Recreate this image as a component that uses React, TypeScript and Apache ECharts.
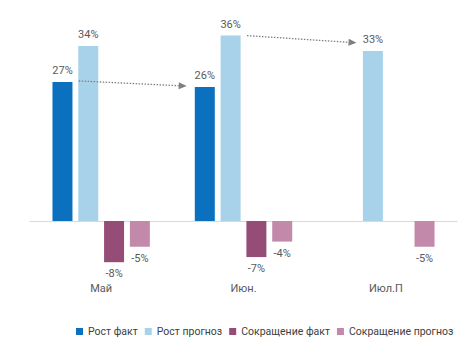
import React, { useEffect, useRef } from "react";
import * as echarts from "echarts";

const categories = ["Май", "Июн.", "Июл.П"];
const growthFact = [27, 26, null];
const growthForecast = [34, 36, 33];
const cutFact = [-8, -7, null];
const cutForecast = [-5, -4, -5];
const seriesNames = ["Рост факт", "Рост прогноз", "Сокращение факт", "Сокращение прогноз"];
// arrows: [fromCategoryIndex, fromValue, toCategoryIndex, toValue]
const arrows = [
  [0, 27.2, 1, 26.2],
  [1, 36, 2, 34.6],
];

const colors = ["#0B70BE", "#A8D2EA", "#954C76", "#C389AA"];
const FONT = "Roboto, 'Noto Sans', sans-serif";

export default function App() {
  const ref = useRef<HTMLDivElement>(null);
  useEffect(() => {
    if (!ref.current) return;
    const chart = echarts.init(ref.current, null, { renderer: "svg" });
    const fmt = (p: any) => (p.value == null ? "" : p.value + "%");
    const barSeries = [growthFact, growthForecast, cutFact, cutForecast].map((d, i) => ({
      type: "bar",
      name: seriesNames[i],
      data: d,
      barWidth: 20,
      barGap: "29%",
      itemStyle: { color: colors[i] },
      label: {
        show: true,
        position: i < 2 ? "top" : "bottom",
        distance: 6,
        formatter: fmt,
        color: "#595959",
        fontSize: 11,
        fontFamily: FONT,
      },
    }));
    // offsets (px) of arrow ends relative to category centre
    const startOff = [-22.5, 3.5];
    const endOff = [-56.8, -29.3];
    chart.setOption({
      animation: false,
      textStyle: { fontFamily: FONT },
      grid: { left: 30, right: 2, top: 15, bottom: 77.5 },
      legend: {
        data: seriesNames,
        top: 326,
        left: 76,
        width: 400,
        padding: 0,
        itemWidth: 7,
        itemHeight: 7,
        itemGap: 7,
        icon: "rect",
        textStyle: { fontSize: 10.5, color: "#404040", fontFamily: FONT },
      },
      xAxis: {
        type: "category",
        data: categories,
        axisLine: { onZero: true, lineStyle: { color: "#D9D9D9", width: 1 } },
        axisTick: { show: false },
        axisLabel: { margin: 10, color: "#595959", fontSize: 11, fontFamily: FONT },
      },
      yAxis: {
        type: "value",
        min: -10,
        max: 40,
        show: false,
        splitLine: { show: false },
      },
      series: [
        ...barSeries,
        {
          type: "custom",
          name: "arrows",
          data: arrows,
          encode: { x: 0, y: 1 },
          z: 10,
          renderItem: (params: any, api: any) => {
            const i = params.dataIndex;
            const p1 = api.coord([api.value(0), api.value(1)]);
            const p2 = api.coord([api.value(2), api.value(3)]);
            const x1 = p1[0] + startOff[i];
            const y1 = p1[1];
            const x2 = p2[0] + endOff[i];
            const y2 = p2[1];
            const ang = Math.atan2(y2 - y1, x2 - x1);
            const L = 8, W = 3.5;
            const bx = x2 - L * Math.cos(ang);
            const by = y2 - L * Math.sin(ang);
            const nx = -Math.sin(ang) * W;
            const ny = Math.cos(ang) * W;
            return {
              type: "group",
              children: [
                {
                  type: "line",
                  shape: { x1, y1, x2: bx, y2: by },
                  style: { stroke: "#808080", lineWidth: 1.3, lineDash: [1.5, 1.5] },
                },
                {
                  type: "polygon",
                  shape: { points: [[x2, y2], [bx + nx, by + ny], [bx - nx, by - ny]] },
                  style: { fill: "#808080" },
                },
              ],
            };
          },
        },
      ],
    });
    return () => chart.dispose();
  }, []);
  return (
    <div
      ref={ref}
      style={{ position: "fixed", left: 0, top: 0, width: 459, height: 350, background: "#fff" }}
    />
  );
}
